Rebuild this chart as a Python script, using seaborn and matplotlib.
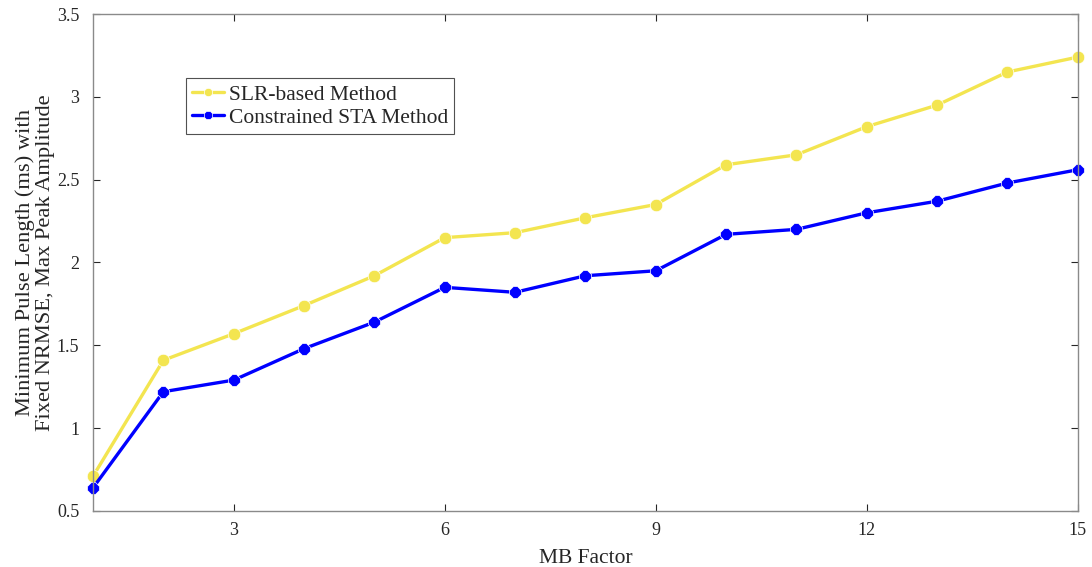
import numpy as np
import pandas as pd
import matplotlib
matplotlib.use("Agg")
import matplotlib.pyplot as plt
import seaborn as sns

mb_factor = list(range(1, 16))
slr_values = [0.71, 1.41, 1.57, 1.74, 1.92, 2.15, 2.18, 2.27, 2.35, 2.59, 2.65, 2.82, 2.95, 3.15, 3.24]
sta_values = [0.64, 1.22, 1.29, 1.48, 1.64, 1.85, 1.82, 1.92, 1.95, 2.17, 2.20, 2.30, 2.37, 2.48, 2.56]
series_names = ["SLR-based Method", "Constrained STA Method"]
x_ticks = [3, 6, 9, 12, 15]
y_ticks = [0.5, 1, 1.5, 2, 2.5, 3, 3.5]

df = pd.DataFrame({
    "MB Factor": mb_factor * 2,
    "value": slr_values + sta_values,
    "method": [series_names[0]] * 15 + [series_names[1]] * 15,
})

sns.set_theme(style="white")
plt.rcParams["font.family"] = ["Liberation Serif", "DejaVu Serif"]
plt.rcParams["mathtext.fontset"] = "stix"

fig = plt.figure(figsize=(10.92, 5.67), dpi=100)
ax = fig.add_axes([0.0852, 0.0988, 0.9018, 0.8765])

palette = {series_names[0]: "#F3E550", series_names[1]: "#0000FF"}
markers = {series_names[0]: "o", series_names[1]: "8"}
sns.lineplot(data=df, x="MB Factor", y="value", hue="method", style="method",
             palette=palette, markers=markers, dashes=False, ax=ax,
             linewidth=2.4, markersize=9, markeredgewidth=0.5)
for ln in ax.lines:
    ln.set_clip_on(False)

ax.set_xlim(1, 15)
ax.set_ylim(0.5, 3.5)
ax.set_xticks(x_ticks)
ax.set_yticks(y_ticks)
ax.set_yticklabels(["0.5", "1", "1.5", "2", "2.5", "3", "3.5"])
ax.set_xlabel("MB Factor", fontsize=15.5, color="#262626", labelpad=7)
ax.set_ylabel("Minimum Pulse Length (ms) with\nFixed NRMSE, Max Peak Amplitude",
              fontsize=16.2, color="#262626", labelpad=1, linespacing=1.08)
ax.tick_params(direction="in", length=5, width=0.8, color="#262626",
               labelsize=13, labelcolor="#262626", top=True, right=True,
               bottom=True, left=True)
ax.tick_params(axis="y", pad=10)
ax.tick_params(axis="x", pad=8)
for s in ax.spines.values():
    s.set_visible(True)
    s.set_color("#8a8a8a")
    s.set_linewidth(1.0)

leg = ax.legend(loc="upper left", bbox_to_anchor=(0.094, 0.871), borderaxespad=0,
                fontsize=15.5, frameon=True, fancybox=False, edgecolor="#262626",
                handlelength=1.5, handletextpad=0.2, borderpad=0.3, labelspacing=0.15)
leg.get_frame().set_linewidth(0.8)
for h in leg.get_lines():
    h.set_markersize(6)

fig.savefig("out.png", dpi=100)
